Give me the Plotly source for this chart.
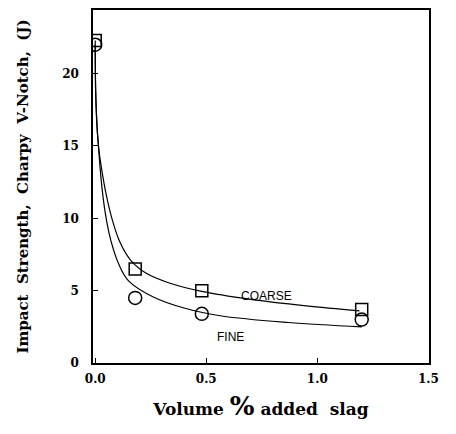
import plotly.graph_objects as go

# Measured points
x_coarse = [0.0, 0.18, 0.48, 1.2]
y_coarse = [22.3, 6.5, 5.0, 3.7]
x_fine = [0.0, 0.18, 0.48, 1.2]
y_fine = [22.0, 4.5, 3.4, 3.0]

# Fitted curves
curve_coarse_x = [0.0, 0.002, 0.008, 0.016, 0.03, 0.05, 0.075, 0.11, 0.16, 0.23, 0.33, 0.48, 0.7, 0.95, 1.19]
curve_coarse_y = [22.3, 18.8, 16.5, 14.8, 13.3, 11.6, 10.0, 8.4, 7.1, 6.2, 5.55, 4.95, 4.4, 3.95, 3.6]
curve_fine_x = [0.0, 0.002, 0.008, 0.014, 0.023, 0.032, 0.044, 0.062, 0.081, 0.107, 0.149, 0.257, 0.40, 0.57, 0.87, 1.2]
curve_fine_y = [22.0, 18.8, 16.3, 15.1, 13.3, 11.9, 10.5, 9.0, 7.9, 6.8, 5.7, 4.6, 3.8, 3.25, 2.8, 2.5]

x_ticks = [0.0, 0.5, 1.0, 1.5]
x_tick_labels = ["0.0", "0.5", "1.0", "1.5"]
y_ticks = [0, 5, 10, 15, 20]
y_tick_labels = ["0", "5", "10", "15", "20"]

fig = go.Figure()
line_style = dict(color="black", width=1.2, shape="spline", smoothing=1.0)
fig.add_trace(go.Scatter(x=curve_coarse_x, y=curve_coarse_y, mode="lines", line=line_style, hoverinfo="skip"))
fig.add_trace(go.Scatter(x=curve_fine_x, y=curve_fine_y, mode="lines", line=line_style, hoverinfo="skip"))
fig.add_trace(go.Scatter(x=x_coarse, y=y_coarse, mode="markers",
                         marker=dict(symbol="square-open", size=12, color="black", line=dict(width=1.5))))
fig.add_trace(go.Scatter(x=x_fine, y=y_fine, mode="markers",
                         marker=dict(symbol="circle-open", size=13, color="black", line=dict(width=1.5))))

fig.add_annotation(x=0.77, y=4.6, text="COARSE", showarrow=False,
                   font=dict(family="Liberation Sans", size=12, color="black"))
fig.add_annotation(x=0.61, y=1.8, text="FINE", showarrow=False,
                   font=dict(family="Liberation Sans", size=12, color="black"))

tick_font = dict(family="DejaVu Serif", size=12, color="black")
fig.update_layout(
    width=448, height=426,
    margin=dict(l=85, r=27, t=0, b=71),
    paper_bgcolor="white", plot_bgcolor="white",
    showlegend=False,
    xaxis=dict(range=[-0.01, 1.503], tickvals=x_ticks, ticktext=["<b>%s</b>" % t for t in x_tick_labels],
               ticks="inside", ticklen=5, tickcolor="black", showline=True, linecolor="black",
               linewidth=1.5, mirror=True, showgrid=False, zeroline=False, tickfont=tick_font,
               ticklabelstandoff=4,
               title=dict(text="<b>Volume <span style='font-size:26px'>%</span> added  slag</b>",
                          font=dict(family="DejaVu Serif", size=17, color="black"), standoff=18)),
    yaxis=dict(range=[0, 24.4], tickvals=y_ticks, ticktext=["<b>%s</b>" % t for t in y_tick_labels],
               ticks="inside", ticklen=5, tickcolor="black", showline=True, linecolor="black",
               linewidth=1.5, mirror=True, showgrid=False, zeroline=False, tickfont=tick_font,
               ticklabelstandoff=10,
               title=dict(text="<b>Impact  Strength,  Charpy  V-Notch,  (J)</b>",
                          font=dict(family="DejaVu Serif", size=15, color="black"), standoff=30)),
)
fig.write_html("out.html")
